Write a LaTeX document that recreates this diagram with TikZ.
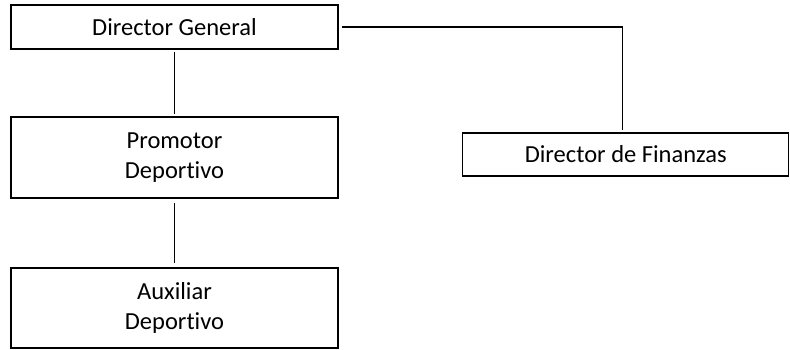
\documentclass[tikz,border=0pt]{standalone}
\usepackage{fontspec}
\setmainfont{Carlito}[Ligatures={NoCommon,NoContextual}]
\newcommand{\nolig}{\kern0pt\relax}
\begin{document}
\begin{tikzpicture}[x=1pt,y=-1pt,
  orgbox/.style={draw=black,line width=1.2pt,fill=white,minimum width=327pt,inner sep=0pt,align=center,font=\fontsize{24.5}{30.5}\selectfont},
  link/.style={draw=black,line width=1.2pt}]
\useasboundingbox (0,0) rectangle (790,350);
\node[orgbox,minimum height=44pt] (dg) at (174.5,27) {Director General};
\node[orgbox,minimum height=81pt] (pd) at (174.5,157.5) {Promotor\\Deport\nolig ivo};
\node[orgbox,minimum height=80pt] (ad) at (174.5,308) {Auxiliar\\Deport\nolig ivo};
\node[orgbox,minimum width=326pt,minimum height=43pt] (df) at (625.8,154.5) {Director de Finanzas};
\coordinate (corner) at (622.7,27);
\draw[link,shorten <=2pt,shorten >=2pt] (dg.south) -- (pd.north);
\draw[link,shorten <=4pt,shorten >=4pt] (pd.south) -- (ad.north);
\draw[link,shorten <=3pt,shorten >=2.5pt] (dg.east) -- (corner) -- (corner |- df.north);
\end{tikzpicture}
\end{document}
